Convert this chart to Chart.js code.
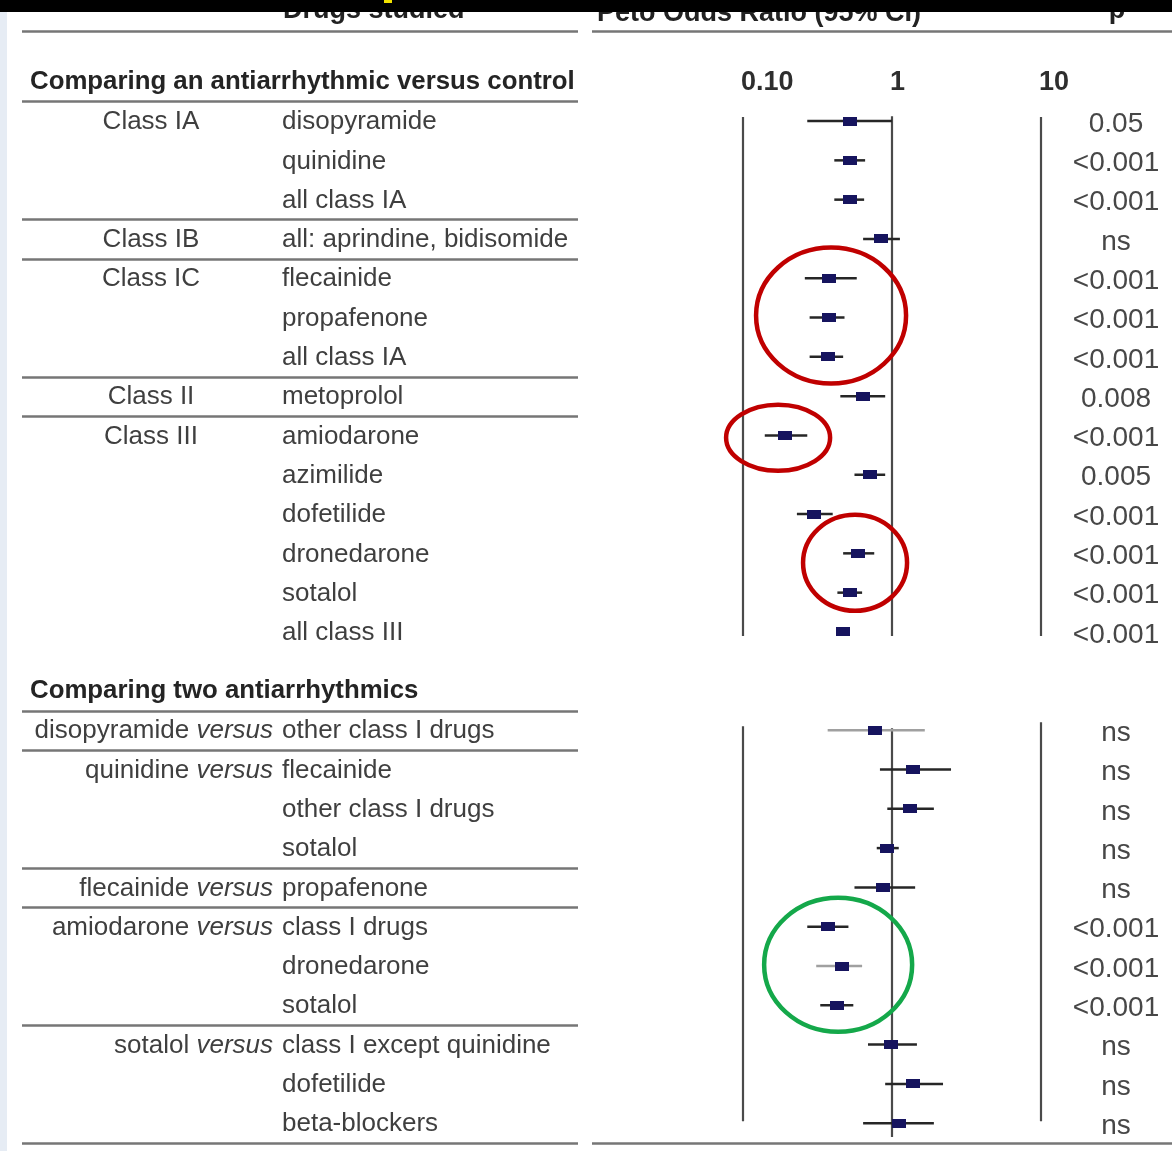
<!DOCTYPE html>
<html>
<head>
<meta charset="utf-8">
<title>Peto odds ratios - antiarrhythmic drugs</title>
<script src="https://cdn.jsdelivr.net/npm/chart.js@4.4.1/dist/chart.umd.min.js"></script>
<style>
  html, body { margin: 0; padding: 0; background: #fff; }
  #wrap { position: relative; width: 1172px; height: 1151px; overflow: hidden; }
  #forest { position: absolute; left: 0; top: 0; }
</style>
</head>
<body>
<div id="wrap"><canvas id="forest" width="1172" height="1151"></canvas></div>
<script>
// ===== antiarrhythmic versus control =====
const controlClass = ['Class IA', '', '', 'Class IB', 'Class IC', '', '', 'Class II', 'Class III', '', '', '', '', ''];
const controlDrug = ['disopyramide', 'quinidine', 'all class IA', 'all: aprindine, bidisomide', 'flecainide',
  'propafenone', 'all class IA', 'metoprolol', 'amiodarone', 'azimilide', 'dofetilide', 'dronedarone',
  'sotalol', 'all class III'];
const controlOR = [0.52, 0.52, 0.52, 0.84, 0.38, 0.38, 0.37, 0.64, 0.19, 0.71, 0.30, 0.59, 0.52, 0.47];
const controlLow = [0.27, 0.41, 0.41, 0.64, 0.26, 0.28, 0.28, 0.45, 0.14, 0.56, 0.23, 0.47, 0.43, 0.44];
const controlHigh = [1.0, 0.66, 0.65, 1.13, 0.58, 0.48, 0.47, 0.90, 0.27, 0.90, 0.40, 0.76, 0.63, 0.51];
const controlP = ['0.05', '<0.001', '<0.001', 'ns', '<0.001', '<0.001', '<0.001', '0.008', '<0.001',
  '0.005', '<0.001', '<0.001', '<0.001', '<0.001'];

// ===== two antiarrhythmics head to head =====
const pairDrug = ['disopyramide', 'quinidine', '', '', 'flecainide', 'amiodarone', '', '', 'sotalol', '', ''];
const pairVs = ['other class I drugs', 'flecainide', 'other class I drugs', 'sotalol', 'propafenone',
  'class I drugs', 'dronedarone', 'sotalol', 'class I except quinidine', 'dofetilide', 'beta-blockers'];
const pairOR = [0.77, 1.38, 1.32, 0.93, 0.87, 0.37, 0.46, 0.43, 0.99, 1.38, 1.11];
const pairLow = [0.37, 0.83, 0.93, 0.79, 0.56, 0.27, 0.31, 0.33, 0.69, 0.90, 0.64];
const pairHigh = [1.66, 2.49, 1.91, 1.11, 1.43, 0.51, 0.63, 0.55, 1.47, 2.20, 1.91];
const pairP = ['ns', 'ns', 'ns', 'ns', 'ns', '<0.001', '<0.001', '<0.001', 'ns', 'ns', 'ns'];

const xTicks = [0.1, 1, 10];
const xTickLabels = ['0.10', '1', '10'];

const sectionTitles = ['Comparing an antiarrhythmic versus control', 'Comparing two antiarrhythmics'];
const headers = ['Drugs studied', 'Peto Odds Ratio (95% CI)', 'p'];

// row slots on the y scale (section 2 starts after a title gap)
const SECTION2_START = 15.5;
const TITLE_POS = [-1, 14.5];
const HEADER_POS = -2.63;
const HEADER_RULE_POS = -2.3;

// vertical reference lines at 0.1 / 1 / 10 for each section
const refLines = [
  { x: 0.1, from: -0.1, to: 13.1 }, { x: 1, from: -0.12, to: 13.1 }, { x: 10, from: -0.1, to: 13.1 },
  { x: 0.1, from: 15.4, to: 25.45 }, { x: 1, from: 15.45, to: 25.85 }, { x: 10, from: 15.3, to: 25.45 }
];

// hand-drawn highlight rings
const rings = [
  { x: 0.39, pos: 4.95, rx: 75, ry: 68, color: '#c00000' },
  { x: 0.172, pos: 8.06, rx: 52, ry: 33, color: '#c00000' },
  { x: 0.565, pos: 11.24, rx: 52, ry: 48, color: '#c00000' },
  { x: 0.435, pos: 21.47, rx: 74, ry: 67, color: '#14a84a' }
];
const faintCI = [14, 20];

const rows = [];
controlDrug.forEach((d, i) => rows.push({
  section: 0, pos: i, group: controlClass[i], drug: d,
  or: controlOR[i], lo: controlLow[i], hi: controlHigh[i], p: controlP[i]
}));
pairVs.forEach((d, i) => rows.push({
  section: 1, pos: SECTION2_START + i, group: pairDrug[i], drug: d,
  or: pairOR[i], lo: pairLow[i], hi: pairHigh[i], p: pairP[i]
}));

const BODY = '26px "Liberation Sans", Arial, sans-serif';
const BODY_IT = 'italic 26px "Liberation Sans", Arial, sans-serif';
const BOLD = 'bold 25.8px "Liberation Sans", Arial, sans-serif';
const PFONT = '28px "Liberation Sans", Arial, sans-serif';
const TEXT = '#3f3f3f';
const RULE = '#767676';

// small navy box used as the point marker
const markImg = document.createElement('canvas');
markImg.width = 14;
markImg.height = 9;
const mctx = markImg.getContext('2d');
mctx.fillStyle = '#16145e';
mctx.fillRect(0, 0, 14, 9);

const tablePlugin = {
  id: 'forestTable',
  afterDraw(chart) {
    const ctx = chart.ctx;
    const ys = chart.scales.y;
    const xs = chart.scales.x;
    const py = v => ys.getPixelForValue(v);
    ctx.save();

    // horizontal rules of the table
    const hline = (pos, x0, x1) => {
      ctx.strokeStyle = RULE;
      ctx.lineWidth = 2.5;
      ctx.beginPath();
      ctx.moveTo(x0, Math.round(py(pos)) + 0.5);
      ctx.lineTo(x1, Math.round(py(pos)) + 0.5);
      ctx.stroke();
    };
    hline(HEADER_RULE_POS, 22, 578);
    hline(HEADER_RULE_POS, 592, 1172);
    rows.forEach(r => {
      if (r.group) hline(r.pos - 0.5, 22, 578);
    });
    hline(rows[rows.length - 1].pos + 0.5, 22, 578);
    hline(rows[rows.length - 1].pos + 0.5, 592, 1172);

    // section titles
    ctx.fillStyle = '#242424';
    ctx.font = BOLD;
    ctx.textBaseline = 'middle';
    ctx.textAlign = 'left';
    sectionTitles.forEach((t, i) => ctx.fillText(t, 30, py(TITLE_POS[i])));

    // table rows
    rows.forEach(r => {
      const y = py(r.pos) + 1;
      ctx.fillStyle = TEXT;
      ctx.textBaseline = 'middle';
      if (r.group) {
        if (r.section === 0) {
          ctx.font = BODY;
          ctx.textAlign = 'center';
          ctx.fillText(r.group, 151, y);
        } else {
          ctx.textAlign = 'right';
          ctx.font = BODY_IT;
          ctx.fillText('versus', 273, y);
          const w = ctx.measureText('versus').width;
          ctx.font = BODY;
          ctx.fillText(r.group + ' ', 273 - w, y);
        }
      }
      ctx.font = BODY;
      ctx.textAlign = 'left';
      ctx.fillText(r.drug, 282, y);

      ctx.font = PFONT;
      ctx.textAlign = 'center';
      ctx.fillStyle = '#474747';
      ctx.fillText(r.p, 1116, y + 2);
    });

    // highlight rings
    rings.forEach(c => {
      ctx.strokeStyle = c.color;
      ctx.lineWidth = 4.5;
      ctx.beginPath();
      ctx.ellipse(xs.getPixelForValue(c.x), py(c.pos), c.rx, c.ry, 0, 0, Math.PI * 2);
      ctx.stroke();
    });

    // column headers, partly hidden under the dark band
    ctx.fillStyle = '#222';
    ctx.font = 'bold 27px "Liberation Sans", Arial, sans-serif';
    ctx.textBaseline = 'alphabetic';
    ctx.textAlign = 'left';
    ctx.fillText(headers[0], 283, py(HEADER_POS));
    ctx.fillText(headers[1], 597, py(HEADER_POS) + 3);
    ctx.textAlign = 'center';
    ctx.fillText(headers[2], 1117, py(HEADER_POS));

    ctx.fillStyle = '#000';
    ctx.fillRect(0, 0, 1172, 12);
    ctx.fillStyle = '#f2e200';
    ctx.fillRect(384, 0, 8, 3);
    ctx.fillStyle = '#e6ecf4';
    ctx.fillRect(0, 12, 7, 1139);

    ctx.restore();
  }
};

new Chart(document.getElementById('forest'), {
  type: 'scatter',
  data: {
    datasets: [
      {
        label: 'Peto OR',
        data: rows.map(r => ({ x: r.or, y: r.pos })),
        pointStyle: markImg,
        pointRadius: 5,
        order: 0,
        clip: false
      },
      {
        label: '95% CI',
        data: rows.flatMap(r => [{ x: r.lo, y: r.pos }, { x: r.hi, y: r.pos }, { x: r.hi, y: null }]),
        showLine: true,
        spanGaps: false,
        pointRadius: 0,
        borderWidth: 2.5,
        borderColor: '#262626',
        segment: {
          borderColor: c => faintCI.includes(Math.floor(c.p0DataIndex / 3)) ? '#a0a0a0' : '#262626'
        },
        order: 1,
        clip: false
      },
      {
        label: 'reference',
        data: refLines.flatMap(l => [{ x: l.x, y: l.from }, { x: l.x, y: l.to }, { x: l.x, y: null }]),
        showLine: true,
        spanGaps: false,
        pointRadius: 0,
        borderWidth: 2.2,
        borderColor: '#4a4a4a',
        order: 2,
        clip: false
      }
    ]
  },
  options: {
    responsive: false,
    devicePixelRatio: 1,
    animation: false,
    layout: { padding: { left: 743, right: 131, top: 61.4, bottom: 8.15 } },
    plugins: { legend: { display: false }, tooltip: { enabled: false } },
    scales: {
      x: {
        type: 'logarithmic',
        position: 'top',
        min: 0.1,
        max: 10,
        grid: { display: false, drawTicks: false },
        border: { display: false },
        afterBuildTicks: axis => { axis.ticks = xTicks.map(v => ({ value: v })); },
        afterFit: axis => { axis.height = 40; },
        ticks: {
          autoSkip: false,
          maxRotation: 0,
          minRotation: 0,
          align: 'start',
          labelOffset: -2,
          padding: 3,
          color: '#2e2e2e',
          font: { family: '"Liberation Sans", Arial, sans-serif', size: 27, weight: 'bold' },
          callback: (v, i) => xTickLabels[i]
        }
      },
      y: {
        type: 'linear',
        display: false,
        reverse: true,
        min: -0.5,
        max: 26
      }
    }
  },
  plugins: [tablePlugin]
});
</script>
</body>
</html>
